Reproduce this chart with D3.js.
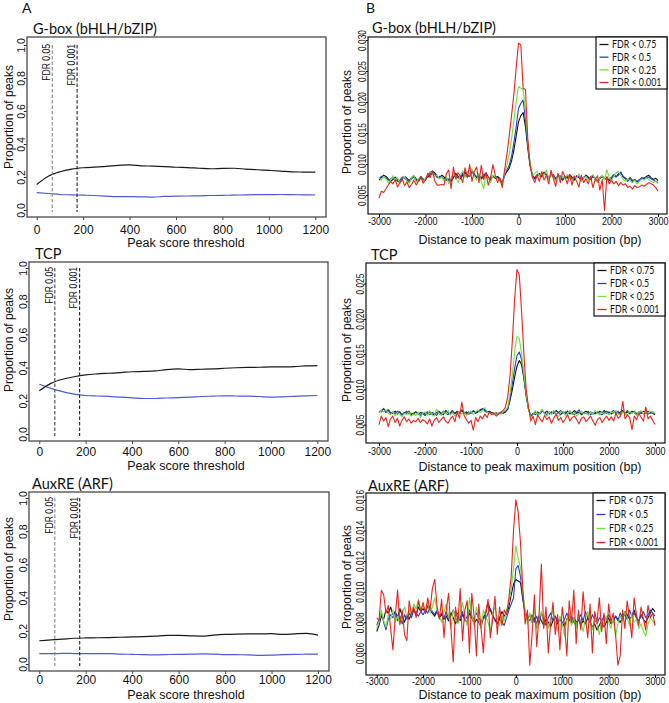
<!DOCTYPE html>
<html><head><meta charset="utf-8">
<script src="https://cdn.jsdelivr.net/npm/d3@7"></script>
<style>body{margin:0;background:#fff}svg{display:block}</style>
</head><body>
<svg id="c" width="669" height="703"></svg>
<script>
// ---------------- DATA ----------------
const thresholds = [0,50,100,150,200,250,300,350,400,450,500,550,600,650,700,750,800,850,900,950,1000,1050,1100,1150,1200];
const gboxWithMotif = [0.155,0.205,0.232,0.248,0.256,0.260,0.264,0.270,0.273,0.268,0.266,0.263,0.259,0.257,0.253,0.250,0.252,0.253,0.248,0.244,0.240,0.236,0.231,0.230,0.229];
const gboxControl   = [0.105,0.100,0.094,0.092,0.090,0.088,0.084,0.081,0.081,0.080,0.078,0.082,0.084,0.085,0.086,0.088,0.089,0.090,0.092,0.093,0.093,0.094,0.093,0.092,0.091];
const tcpWithMotif  = [0.260,0.305,0.330,0.345,0.356,0.362,0.366,0.370,0.375,0.377,0.380,0.388,0.392,0.388,0.390,0.392,0.396,0.399,0.401,0.402,0.404,0.404,0.406,0.410,0.412];
const tcpControl    = [0.300,0.275,0.255,0.240,0.232,0.229,0.227,0.222,0.218,0.214,0.214,0.217,0.219,0.222,0.226,0.228,0.230,0.229,0.228,0.226,0.222,0.224,0.227,0.230,0.232];
const auxWithMotif  = [0.140,0.145,0.150,0.155,0.157,0.158,0.159,0.161,0.163,0.165,0.168,0.172,0.172,0.170,0.168,0.174,0.178,0.180,0.181,0.181,0.183,0.178,0.182,0.185,0.174];
const auxControl    = [0.063,0.062,0.064,0.063,0.062,0.062,0.063,0.060,0.058,0.056,0.055,0.057,0.058,0.059,0.061,0.060,0.057,0.056,0.055,0.052,0.053,0.056,0.058,0.059,0.060];

const fdrCutoffs = [67, 174];
const fdrCutoffLabels = ["FDR 0.05", "FDR 0.001"];

const distance = [-3000,-2950,-2900,-2850,-2800,-2750,-2700,-2650,-2600,-2550,-2500,-2450,-2400,-2350,-2300,-2250,-2200,-2150,-2100,-2050,
-2000,-1950,-1900,-1850,-1800,-1750,-1700,-1650,-1600,-1550,-1500,-1450,-1400,-1350,-1300,-1250,-1200,-1150,-1100,-1050,
-1000,-950,-900,-850,-800,-750,-700,-650,-600,-550,-500,-450,-400,-350,-300,-250,-200,-150,-100,-50,
0,50,100,150,200,250,300,350,400,450,500,550,600,650,700,750,800,850,900,950,
1000,1050,1100,1150,1200,1250,1300,1350,1400,1450,1500,1550,1600,1650,1700,1750,1800,1850,1900,1950,
2000,2050,2100,2150,2200,2250,2300,2350,2400,2450,2500,2550,2600,2650,2700,2750,2800,2850,2900,2950,3000];

const fdrLabels = ["FDR < 0.75", "FDR < 0.5", "FDR < 0.25", "FDR < 0.001"];

const gboxFdr075 = [0.0074,0.0078,0.0082,0.0080,0.0076,0.0072,0.0075,0.0079,0.0074,0.0070,0.0076,0.0080,0.0077,0.0073,0.0078,0.0081,0.0076,0.0072,0.0078,0.0074,
0.0076,0.0079,0.0083,0.0088,0.0086,0.0080,0.0077,0.0082,0.0079,0.0074,0.0076,0.0072,0.0078,0.0085,0.0080,0.0076,0.0082,0.0087,0.0079,0.0083,
0.0090,0.0084,0.0078,0.0082,0.0076,0.0080,0.0086,0.0079,0.0074,0.0081,0.0077,0.0080,0.0076,0.0069,0.0082,0.0088,0.0093,0.0105,0.0122,0.0145,
0.0168,0.0178,0.0183,0.0160,0.0125,0.0096,0.0082,0.0076,0.0080,0.0085,0.0079,0.0087,0.0082,0.0076,0.0084,0.0080,0.0075,0.0082,0.0078,0.0074,
0.0080,0.0077,0.0083,0.0079,0.0074,0.0081,0.0078,0.0073,0.0077,0.0082,0.0079,0.0075,0.0080,0.0077,0.0071,0.0076,0.0080,0.0075,0.0078,0.0073,
0.0076,0.0082,0.0079,0.0084,0.0086,0.0080,0.0077,0.0074,0.0078,0.0072,0.0075,0.0071,0.0074,0.0078,0.0076,0.0080,0.0082,0.0078,0.0075,0.0077,0.0073];
const gboxFdr05 = [0.0076,0.0080,0.0079,0.0077,0.0074,0.0076,0.0078,0.0075,0.0072,0.0074,0.0079,0.0077,0.0074,0.0071,0.0076,0.0079,0.0073,0.0075,0.0080,0.0076,
0.0074,0.0081,0.0086,0.0089,0.0083,0.0078,0.0080,0.0079,0.0076,0.0078,0.0073,0.0075,0.0080,0.0082,0.0077,0.0079,0.0085,0.0081,0.0083,0.0080,
0.0087,0.0081,0.0080,0.0079,0.0078,0.0083,0.0084,0.0076,0.0078,0.0079,0.0080,0.0078,0.0073,0.0070,0.0080,0.0090,0.0098,0.0112,0.0134,0.0160,
0.0190,0.0198,0.0203,0.0172,0.0130,0.0100,0.0080,0.0078,0.0083,0.0082,0.0081,0.0085,0.0084,0.0078,0.0081,0.0083,0.0077,0.0080,0.0081,0.0076,
0.0078,0.0080,0.0081,0.0076,0.0077,0.0079,0.0080,0.0075,0.0079,0.0080,0.0076,0.0078,0.0082,0.0074,0.0073,0.0078,0.0081,0.0077,0.0076,0.0075,
0.0079,0.0083,0.0080,0.0082,0.0087,0.0079,0.0076,0.0072,0.0077,0.0074,0.0073,0.0072,0.0075,0.0076,0.0078,0.0077,0.0079,0.0076,0.0074,0.0072,0.0070];
const gboxFdr025 = [0.0078,0.0074,0.0080,0.0076,0.0070,0.0074,0.0081,0.0072,0.0078,0.0068,0.0075,0.0080,0.0072,0.0069,0.0078,0.0082,0.0070,0.0076,0.0079,0.0071,
0.0077,0.0083,0.0088,0.0084,0.0079,0.0082,0.0076,0.0079,0.0072,0.0080,0.0068,0.0078,0.0086,0.0079,0.0070,0.0082,0.0089,0.0078,0.0087,0.0082,
0.0092,0.0080,0.0074,0.0085,0.0072,0.0060,0.0083,0.0077,0.0070,0.0082,0.0079,0.0076,0.0072,0.0066,0.0085,0.0098,0.0115,0.0140,0.0170,0.0200,
0.0225,0.0222,0.0220,0.0185,0.0135,0.0102,0.0080,0.0085,0.0088,0.0080,0.0086,0.0082,0.0090,0.0076,0.0083,0.0079,0.0072,0.0084,0.0077,0.0080,
0.0076,0.0083,0.0079,0.0073,0.0081,0.0077,0.0084,0.0072,0.0078,0.0080,0.0074,0.0079,0.0083,0.0075,0.0070,0.0077,0.0082,0.0074,0.0091,0.0078,
0.0074,0.0080,0.0086,0.0088,0.0081,0.0075,0.0072,0.0076,0.0073,0.0070,0.0074,0.0068,0.0072,0.0076,0.0074,0.0078,0.0075,0.0072,0.0070,0.0073,0.0068];
const gboxFdr0001 = [0.0045,0.0056,0.0054,0.0060,0.0066,0.0072,0.0068,0.0075,0.0063,0.0070,0.0076,0.0065,0.0071,0.0062,0.0067,0.0074,0.0066,0.0072,0.0080,0.0069,
0.0074,0.0085,0.0078,0.0088,0.0073,0.0066,0.0066,0.0067,0.0066,0.0085,0.0090,0.0060,0.0095,0.0076,0.0086,0.0080,0.0070,0.0094,0.0078,0.0099,
0.0072,0.0088,0.0095,0.0070,0.0098,0.0075,0.0085,0.0066,0.0078,0.0099,0.0082,0.0070,0.0078,0.0062,0.0090,0.0115,0.0145,0.0178,0.0212,0.0255,
0.0295,0.0292,0.0222,0.0220,0.0140,0.0098,0.0078,0.0070,0.0082,0.0072,0.0088,0.0074,0.0082,0.0068,0.0090,0.0076,0.0064,0.0085,0.0070,0.0088,
0.0079,0.0068,0.0083,0.0066,0.0080,0.0072,0.0063,0.0082,0.0070,0.0076,0.0068,0.0080,0.0062,0.0075,0.0081,0.0058,0.0075,0.0025,0.0080,0.0068,
0.0074,0.0068,0.0072,0.0065,0.0070,0.0066,0.0068,0.0062,0.0064,0.0060,0.0065,0.0062,0.0063,0.0066,0.0064,0.0067,0.0070,0.0068,0.0066,0.0062,0.0056];

const tcpFdr075 = [0.0068,0.0070,0.0072,0.0069,0.0071,0.0067,0.0066,0.0069,0.0065,0.0068,0.0064,0.0067,0.0066,0.0069,0.0064,0.0066,0.0068,0.0065,0.0067,0.0066,
0.0063,0.0066,0.0068,0.0065,0.0064,0.0067,0.0069,0.0066,0.0064,0.0070,0.0067,0.0065,0.0068,0.0066,0.0069,0.0067,0.0070,0.0066,0.0068,0.0065,
0.0067,0.0069,0.0066,0.0068,0.0070,0.0072,0.0071,0.0068,0.0069,0.0067,0.0066,0.0065,0.0066,0.0067,0.0066,0.0068,0.0072,0.0085,0.0100,0.0118,
0.0133,0.0141,0.0135,0.0115,0.0090,0.0072,0.0062,0.0065,0.0068,0.0064,0.0067,0.0070,0.0066,0.0069,0.0065,0.0068,0.0066,0.0070,0.0067,0.0064,
0.0068,0.0066,0.0069,0.0065,0.0067,0.0070,0.0066,0.0068,0.0064,0.0067,0.0069,0.0066,0.0068,0.0065,0.0067,0.0066,0.0069,0.0067,0.0070,0.0066,
0.0068,0.0065,0.0067,0.0069,0.0066,0.0068,0.0070,0.0065,0.0068,0.0066,0.0069,0.0067,0.0064,0.0068,0.0066,0.0069,0.0067,0.0065,0.0068,0.0066,0.0064];
const tcpFdr05 = [0.0069,0.0068,0.0073,0.0067,0.0070,0.0066,0.0068,0.0065,0.0069,0.0067,0.0063,0.0066,0.0069,0.0065,0.0066,0.0064,0.0068,0.0066,0.0063,0.0067,
0.0065,0.0068,0.0064,0.0067,0.0066,0.0063,0.0068,0.0065,0.0069,0.0066,0.0064,0.0067,0.0070,0.0065,0.0068,0.0066,0.0071,0.0067,0.0065,0.0068,
0.0066,0.0070,0.0067,0.0069,0.0071,0.0073,0.0069,0.0067,0.0068,0.0066,0.0065,0.0067,0.0065,0.0066,0.0067,0.0069,0.0072,0.0088,0.0108,0.0130,
0.0148,0.0153,0.0142,0.0118,0.0092,0.0072,0.0062,0.0066,0.0064,0.0068,0.0065,0.0069,0.0067,0.0064,0.0068,0.0066,0.0069,0.0065,0.0067,0.0070,
0.0066,0.0068,0.0065,0.0069,0.0066,0.0064,0.0068,0.0071,0.0065,0.0067,0.0066,0.0069,0.0064,0.0067,0.0065,0.0068,0.0066,0.0064,0.0067,0.0069,
0.0066,0.0068,0.0070,0.0066,0.0069,0.0064,0.0068,0.0066,0.0070,0.0065,0.0067,0.0069,0.0066,0.0064,0.0068,0.0065,0.0067,0.0069,0.0066,0.0068,0.0065];
const tcpFdr025 = [0.0067,0.0070,0.0068,0.0071,0.0066,0.0064,0.0068,0.0063,0.0067,0.0065,0.0061,0.0066,0.0064,0.0068,0.0062,0.0065,0.0063,0.0067,0.0060,0.0066,
0.0068,0.0063,0.0070,0.0064,0.0062,0.0072,0.0066,0.0063,0.0068,0.0065,0.0070,0.0064,0.0067,0.0062,0.0066,0.0069,0.0065,0.0068,0.0063,0.0066,
0.0069,0.0064,0.0068,0.0071,0.0067,0.0070,0.0074,0.0068,0.0066,0.0065,0.0067,0.0064,0.0066,0.0065,0.0068,0.0071,0.0075,0.0095,0.0122,0.0155,
0.0175,0.0172,0.0150,0.0122,0.0094,0.0072,0.0060,0.0064,0.0070,0.0063,0.0067,0.0072,0.0065,0.0062,0.0068,0.0064,0.0070,0.0066,0.0061,0.0067,
0.0069,0.0063,0.0066,0.0070,0.0064,0.0067,0.0062,0.0066,0.0069,0.0065,0.0067,0.0063,0.0068,0.0065,0.0070,0.0066,0.0064,0.0069,0.0065,0.0067,
0.0064,0.0068,0.0066,0.0070,0.0065,0.0063,0.0068,0.0066,0.0064,0.0069,0.0066,0.0068,0.0063,0.0067,0.0070,0.0065,0.0068,0.0066,0.0069,0.0067,0.0066];
const tcpFdr0001 = [0.0050,0.0062,0.0055,0.0060,0.0047,0.0058,0.0062,0.0053,0.0059,0.0048,0.0056,0.0061,0.0054,0.0058,0.0052,0.0056,0.0054,0.0059,0.0053,0.0057,
0.0055,0.0051,0.0058,0.0048,0.0056,0.0060,0.0053,0.0057,0.0061,0.0055,0.0052,0.0058,0.0062,0.0054,0.0068,0.0059,0.0082,0.0063,0.0057,0.0052,
0.0056,0.0042,0.0060,0.0054,0.0062,0.0058,0.0065,0.0060,0.0068,0.0064,0.0066,0.0062,0.0065,0.0068,0.0070,0.0075,0.0090,0.0120,0.0170,0.0230,
0.0270,0.0262,0.0210,0.0150,0.0100,0.0075,0.0055,0.0062,0.0050,0.0064,0.0058,0.0054,0.0063,0.0057,0.0061,0.0052,0.0059,0.0065,0.0056,0.0060,
0.0053,0.0058,0.0064,0.0055,0.0060,0.0062,0.0057,0.0051,0.0059,0.0061,0.0054,0.0058,0.0062,0.0055,0.0049,0.0057,0.0060,0.0053,0.0058,0.0062,
0.0056,0.0061,0.0055,0.0066,0.0059,0.0062,0.0083,0.0058,0.0064,0.0060,0.0043,0.0062,0.0057,0.0066,0.0060,0.0055,0.0075,0.0058,0.0062,0.0056,0.0050];

const auxFdr075 = [0.0074,0.0078,0.0084,0.0082,0.0088,0.0086,0.0090,0.0085,0.0087,0.0083,0.0089,0.0084,0.0080,0.0085,0.0082,0.0086,0.0088,0.0085,0.0090,0.0087,
0.0089,0.0086,0.0091,0.0088,0.0086,0.0084,0.0087,0.0083,0.0085,0.0082,0.0084,0.0081,0.0086,0.0083,0.0079,0.0084,0.0081,0.0085,0.0082,0.0080,
0.0086,0.0083,0.0079,0.0082,0.0080,0.0077,0.0083,0.0086,0.0093,0.0088,0.0084,0.0082,0.0079,0.0083,0.0087,0.0084,0.0086,0.0090,0.0098,0.0105,
0.0108,0.0107,0.0106,0.0095,0.0086,0.0082,0.0085,0.0080,0.0083,0.0079,0.0084,0.0081,0.0078,0.0082,0.0080,0.0077,0.0081,0.0084,0.0079,0.0082,
0.0080,0.0077,0.0082,0.0085,0.0079,0.0083,0.0080,0.0082,0.0078,0.0081,0.0079,0.0083,0.0080,0.0077,0.0079,0.0075,0.0078,0.0081,0.0077,0.0080,
0.0083,0.0079,0.0081,0.0084,0.0082,0.0080,0.0083,0.0087,0.0085,0.0082,0.0084,0.0088,0.0083,0.0081,0.0085,0.0082,0.0080,0.0083,0.0086,0.0089,0.0087];
const auxFdr05 = [0.0078,0.0082,0.0086,0.0080,0.0075,0.0082,0.0085,0.0083,0.0087,0.0081,0.0084,0.0079,0.0085,0.0082,0.0086,0.0083,0.0088,0.0086,0.0084,0.0087,
0.0085,0.0088,0.0086,0.0090,0.0087,0.0085,0.0088,0.0084,0.0086,0.0083,0.0087,0.0082,0.0085,0.0088,0.0084,0.0086,0.0083,0.0087,0.0081,0.0084,
0.0088,0.0084,0.0082,0.0086,0.0083,0.0080,0.0084,0.0082,0.0086,0.0089,0.0085,0.0081,0.0079,0.0082,0.0080,0.0078,0.0083,0.0088,0.0092,0.0096,
0.0115,0.0117,0.0110,0.0096,0.0087,0.0083,0.0081,0.0085,0.0080,0.0084,0.0079,0.0086,0.0082,0.0078,0.0083,0.0086,0.0081,0.0084,0.0080,0.0083,
0.0079,0.0082,0.0086,0.0081,0.0084,0.0080,0.0078,0.0082,0.0085,0.0081,0.0087,0.0083,0.0080,0.0085,0.0082,0.0079,0.0083,0.0081,0.0084,0.0082,
0.0085,0.0082,0.0080,0.0084,0.0081,0.0086,0.0083,0.0085,0.0082,0.0088,0.0084,0.0086,0.0083,0.0081,0.0084,0.0087,0.0083,0.0085,0.0088,0.0086,0.0084];
const auxFdr025 = [0.0076,0.0080,0.0088,0.0081,0.0077,0.0085,0.0082,0.0088,0.0080,0.0084,0.0078,0.0086,0.0090,0.0084,0.0088,0.0086,0.0092,0.0089,0.0095,0.0088,
0.0091,0.0087,0.0093,0.0086,0.0090,0.0096,0.0088,0.0084,0.0080,0.0087,0.0092,0.0085,0.0076,0.0088,0.0083,0.0079,0.0086,0.0093,0.0084,0.0078,
0.0096,0.0085,0.0078,0.0090,0.0082,0.0076,0.0088,0.0084,0.0080,0.0074,0.0086,0.0090,0.0083,0.0078,0.0085,0.0081,0.0088,0.0093,0.0102,0.0115,
0.0130,0.0122,0.0116,0.0100,0.0088,0.0079,0.0086,0.0080,0.0089,0.0076,0.0083,0.0087,0.0079,0.0085,0.0076,0.0083,0.0088,0.0081,0.0074,0.0084,
0.0079,0.0071,0.0082,0.0086,0.0078,0.0083,0.0076,0.0085,0.0080,0.0074,0.0082,0.0087,0.0080,0.0075,0.0083,0.0079,0.0072,0.0081,0.0078,0.0084,
0.0080,0.0076,0.0083,0.0071,0.0079,0.0084,0.0081,0.0087,0.0083,0.0078,0.0085,0.0080,0.0082,0.0076,0.0079,0.0074,0.0071,0.0079,0.0083,0.0081,0.0078];
const auxFdr0001 = [0.0083,0.0081,0.0101,0.0098,0.0086,0.0091,0.0076,0.0062,0.0084,0.0101,0.0079,0.0088,0.0072,0.0068,0.0094,0.0085,0.0090,0.0083,0.0094,0.0087,
0.0093,0.0086,0.0096,0.0088,0.0102,0.0108,0.0091,0.0082,0.0095,0.0070,0.0088,0.0099,0.0076,0.0054,0.0090,0.0080,0.0102,0.0068,0.0088,0.0094,
0.0060,0.0099,0.0084,0.0058,0.0092,0.0076,0.0060,0.0086,0.0095,0.0070,0.0082,0.0097,0.0072,0.0090,0.0078,0.0088,0.0085,0.0096,0.0110,0.0140,
0.0160,0.0152,0.0132,0.0102,0.0079,0.0088,0.0052,0.0072,0.0098,0.0064,0.0085,0.0118,0.0076,0.0090,0.0060,0.0079,0.0093,0.0072,0.0085,0.0062,
0.0090,0.0078,0.0058,0.0094,0.0080,0.0101,0.0066,0.0088,0.0075,0.0100,0.0083,0.0070,0.0092,0.0060,0.0087,0.0080,0.0096,0.0074,0.0086,0.0066,
0.0092,0.0080,0.0086,0.0072,0.0052,0.0058,0.0088,0.0076,0.0094,0.0083,0.0070,0.0096,0.0085,0.0078,0.0090,0.0082,0.0075,0.0091,0.0083,0.0086,0.0078];

const leftXTicks = [0,200,400,600,800,1000,1200];
const leftYTicks = [0,0.2,0.4,0.6,0.8,1.0];
const rightXTicks = [-3000,-2000,-1000,0,1000,2000,3000];
const gboxYTicks = [0.005,0.010,0.015,0.020,0.025,0.030];
const tcpYTicks = [0.005,0.010,0.015,0.020,0.025];
const auxYTicks = [0.006,0.008,0.010,0.012,0.014,0.016];

// ---------------- LAYOUT ----------------
const TICKF = "'Liberation Sans', Arial, sans-serif";
const TITLEF = "Lato, 'Open Sans', sans-serif";
const fdrColors = ["#111111", "#2a3ccf", "#6fe03c", "#e8231f"];

const leftPanels = [
  {title:"G-box (bHLH/bZIP)", hit:gboxWithMotif, ctl:gboxControl, box:[27,37,326,217], xr:[36.7,315.3], yr:[210,45], tx:33, ty:34, labOff:13, xTitleY:243, yTitleY:117, cut:["#8a8a8a","#222"]},
  {title:"TCP", hit:tcpWithMotif, ctl:tcpControl, box:[29,262,328,441], xr:[39.3,317.3], yr:[434,268], tx:35, ty:259, labOff:10.5, xTitleY:466, yTitleY:340, cut:["#444","#222"]},
  {title:"AuxRE (ARF)", hit:auxWithMotif, ctl:auxControl, box:[29,492,329,671], xr:[39.3,318], yr:[664,498], tx:32, ty:489, labOff:8.5, xTitleY:695, yTitleY:569, cut:["#8a8a8a","#222"]}
];
const rightPanels = [
  {title:"G-box (bHLH/bZIP)", series:[gboxFdr075,gboxFdr05,gboxFdr025,gboxFdr0001], ticks:gboxYTicks, box:[368,37,667,214], xr:[379,658], yd:[0.005,0.030], yr:[195,40], tx:372, ty:33, labOff:7, xTitleY:240, yTitleY:122, leg:[596,37,667,89]},
  {title:"TCP", series:[tcpFdr075,tcpFdr05,tcpFdr025,tcpFdr0001], ticks:tcpYTicks, box:[366,263,665,443], xr:[379,655], yd:[0.005,0.025], yr:[424.6,283.6], tx:371, ty:260, labOff:8, xTitleY:467, yTitleY:350, leg:[594,263,665,316]},
  {title:"AuxRE (ARF)", series:[auxFdr075,auxFdr05,auxFdr025,auxFdr0001], ticks:auxYTicks, box:[366,493,665,675], xr:[376.7,655], yd:[0.006,0.016], yr:[652.9,499.9], tx:368, ty:491, labOff:6.5, xTitleY:695, yTitleY:577, leg:[593,493,665,549]}
];

const svg = d3.select("#c");

function rotText(g, x, y, txt, size, sx, anchor, family) {
  return g.append("text").attr("transform", `translate(${x},${y}) rotate(-90) scale(${sx},1)`)
    .attr("text-anchor", anchor).attr("font-family", family || TICKF).attr("font-size", size).attr("fill", "#111").text(txt);
}

// Panel letters
svg.append("text").attr("x",22).attr("y",12.5).attr("font-family",TITLEF).attr("font-size",14).attr("fill","#111").text("A");
svg.append("text").attr("x",366).attr("y",12.5).attr("font-family",TITLEF).attr("font-size",14).attr("fill","#111").text("B");

leftPanels.forEach((p, pi) => {
  const [L,T,R,B] = p.box;
  const x = d3.scaleLinear().domain([0,1200]).range(p.xr);
  const y = d3.scaleLinear().domain([0,1]).range(p.yr);
  const g = svg.append("g");
  const line = d3.line().x((d,i)=>x(thresholds[i])).y(d=>y(d)).curve(d3.curveMonotoneX);
  g.append("path").datum(p.ctl).attr("d",line).attr("fill","none").attr("stroke","#4a5bd6").attr("stroke-width",1.2);
  g.append("path").datum(p.hit).attr("d",line).attr("fill","none").attr("stroke","#1a1a1a").attr("stroke-width",1.2);
  fdrCutoffs.forEach((v,i) => {
    g.append("line").attr("x1",x(v)).attr("x2",x(v)).attr("y1",y(1)).attr("y2",y(-0.012))
      .attr("stroke",p.cut[i]).attr("stroke-width",1.1).attr("stroke-dasharray","3.5,2");
    rotText(g, x(v)-2.2, y(1)-1, fdrCutoffLabels[i], 10.5, 0.82, "end");
  });
  g.append("rect").attr("x",L).attr("y",T).attr("width",R-L).attr("height",B-T)
    .attr("fill","none").attr("stroke","#4a4a4a").attr("stroke-width",1.3);
  const xa = g.append("g").attr("transform",`translate(0,${B})`)
    .call(d3.axisBottom(x).tickValues(leftXTicks).tickSize(3).tickFormat(d=>String(d)));
  xa.select(".domain").remove();
  xa.selectAll(".tick line").attr("stroke","#4a4a4a");
  xa.selectAll(".tick text").attr("y",p.labOff).attr("dy","0.36em").attr("font-family",TICKF).attr("font-size",12).attr("fill","#111");
  const ya = g.append("g").attr("transform",`translate(${L},0)`)
    .call(d3.axisLeft(y).tickValues(leftYTicks).tickSize(3).tickFormat(d3.format(".1f")));
  ya.select(".domain").remove();
  ya.selectAll(".tick line").attr("stroke","#4a4a4a");
  ya.selectAll(".tick text").attr("x",null).attr("dy",null).attr("text-anchor","middle")
    .attr("transform","translate(-2.5,0) rotate(-90)").attr("font-family",TICKF).attr("font-size",10.5).attr("fill","#111");
  g.append("text").attr("x",p.tx).attr("y",p.ty).attr("font-family",TITLEF).attr("font-size",14.5).attr("fill","#111").text(p.title);
  g.append("text").attr("x",186).attr("y",p.xTitleY).attr("dy","0.35em").attr("text-anchor","middle")
    .attr("font-family",TICKF).attr("font-size",12.5).attr("fill","#111").text("Peak score threshold");
  rotText(g, 12.5, p.yTitleY, "Proportion of peaks", 12, 1, "middle");
});

rightPanels.forEach((p, pi) => {
  const [L,T,R,B] = p.box;
  const x = d3.scaleLinear().domain([-3000,3000]).range(p.xr);
  const y = d3.scaleLinear().domain(p.yd).range(p.yr);
  const g = svg.append("g");
  const cid = "clipR" + pi;
  g.append("clipPath").attr("id",cid).append("rect").attr("x",L).attr("y",T).attr("width",R-L).attr("height",B-T);
  const line = d3.line().x((d,i)=>x(distance[i])).y(d=>y(d));
  const lg = g.append("g").attr("clip-path",`url(#${cid})`);
  [0,1,2,3].forEach(k => {
    lg.append("path").datum(p.series[k]).attr("d",line).attr("fill","none")
      .attr("stroke",fdrColors[k]).attr("stroke-width",1.1).attr("stroke-linejoin","round");
  });
  g.append("rect").attr("x",L).attr("y",T).attr("width",R-L).attr("height",B-T)
    .attr("fill","none").attr("stroke","#111").attr("stroke-width",1.2);
  const xa = g.append("g").attr("transform",`translate(0,${B})`)
    .call(d3.axisBottom(x).tickValues(rightXTicks).tickSize(3).tickFormat(d=>String(d)));
  xa.select(".domain").remove();
  xa.selectAll(".tick text").attr("y",null).attr("dy",null)
    .attr("transform",`translate(0,${p.labOff + 3.6}) scale(0.86,1)`)
    .attr("font-family",TICKF).attr("font-size",10.5).attr("fill","#111");
  const ya = g.append("g").attr("transform",`translate(${L},0)`)
    .call(d3.axisLeft(y).tickValues(p.ticks).tickSize(2).tickFormat(d3.format(".3f")));
  ya.select(".domain").remove();
  ya.selectAll(".tick text").attr("x",null).attr("dy",null).attr("text-anchor","middle")
    .attr("transform","translate(-2.5,0) rotate(-90) scale(0.8,1)").attr("font-family",TICKF).attr("font-size",10.5).attr("fill","#111");
  g.append("text").attr("x",p.tx).attr("y",p.ty).attr("font-family",TITLEF).attr("font-size",14.5).attr("fill","#111").text(p.title);
  g.append("text").attr("x",530).attr("y",p.xTitleY).attr("dy","0.35em").attr("text-anchor","middle")
    .attr("font-family",TICKF).attr("font-size",12.5).attr("fill","#111").text("Distance to peak maximum position (bp)");
  rotText(g, 351, p.yTitleY, "Proportion of peaks", 12, 1, "middle");
  // legend
  const [lx0,ly0,lx1,ly1] = p.leg;
  g.append("rect").attr("x",lx0).attr("y",ly0).attr("width",lx1-lx0).attr("height",ly1-ly0)
    .attr("fill","#fff").attr("stroke","#111").attr("stroke-width",1.2);
  const step = (ly1-ly0-14)/3;
  fdrLabels.forEach((lab,k) => {
    const yy = ly0 + 7.5 + k*step;
    g.append("line").attr("x1",lx0+3.5).attr("x2",lx0+12.5).attr("y1",yy).attr("y2",yy)
      .attr("stroke",fdrColors[k]).attr("stroke-width",1.3);
    g.append("text").attr("transform",`translate(${lx0+16},${yy}) scale(0.84,1)`).attr("dy","0.35em")
      .attr("font-family",TITLEF).attr("font-size",10.5).attr("fill","#111").text(lab);
  });
});
</script>
</body></html>
